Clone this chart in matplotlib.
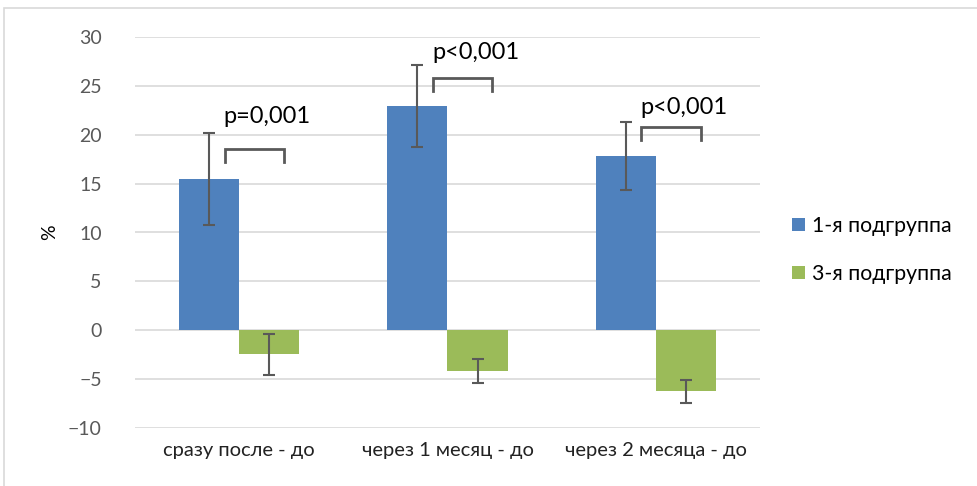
import matplotlib
matplotlib.use("Agg")
import matplotlib.pyplot as plt
from matplotlib.patches import Rectangle
import numpy as np

categories = ["сразу после - до", "через 1 месяц - до", "через 2 месяца - до"]
series_names = ["1-я подгруппа", "3-я подгруппа"]
values_1 = [15.5, 22.9, 17.8]
errors_1 = [4.7, 4.2, 3.5]
values_3 = [-2.45, -4.15, -6.24]
errors_3 = [2.1, 1.2, 1.2]
p_labels = ["p=0,001", "p<0,001", "p<0,001"]
bracket_y = [18.5, 25.8, 20.8]
p_label_y = [21.9, 28.4, 22.8]
yticks = [-10, -5, 0, 5, 10, 15, 20, 25, 30]

plt.rcParams['font.family'] = ['Lato', 'DejaVu Sans']

W, H = 977, 486
fig = plt.figure(figsize=(W / 100, H / 100), dpi=100)
fig.patches.append(Rectangle((4 / W, -0.1), 1.2, 1.1 - 8 / H, transform=fig.transFigure,
                             fill=False, edgecolor="#d9d9d9", linewidth=1.2))
ax = fig.add_axes([135 / W, 1 - 428 / H, 625 / W, (428 - 37) / H])

x = np.arange(len(categories))
bw = 60 / 208
c_blue = "#4F81BD"
c_green = "#9BBB59"
ecol = "#595959"
ax.bar(x - bw / 2, values_1, bw, color=c_blue, label=series_names[0], zorder=2,
       yerr=errors_1, error_kw=dict(ecolor=ecol, elinewidth=1.5, capsize=4, capthick=1.5))
ax.bar(x + bw / 2, values_3, bw, color=c_green, label=series_names[1], zorder=2,
       yerr=errors_3, error_kw=dict(ecolor=ecol, elinewidth=1.5, capsize=4, capthick=1.5))

for i in range(len(categories)):
    x0 = i - 0.07
    x1 = i + 0.215
    yb = bracket_y[i]
    ax.plot([x0, x0, x1, x1], [yb - 1.3, yb, yb, yb - 1.3], color=ecol, lw=2, zorder=3,
            solid_joinstyle="miter")
    ax.text(i + 0.135, p_label_y[i], p_labels[i], ha="center", va="center",
            fontsize=17, color="black")

ax.set_xlim(-0.5, 2.5)
ax.set_ylim(-10, 30)
ax.set_yticks(yticks)
ax.set_xticks(x)
ax.set_xticklabels(categories, fontsize=14.5, color="#222222")
ax.tick_params(axis="y", labelsize=14, length=0, pad=24, labelcolor="#595959")
ax.tick_params(axis="x", length=0, pad=10)
ax.yaxis.grid(True, color="#d9d9d9", linewidth=1.2, zorder=0)
ax.set_axisbelow(True)
for s in ax.spines.values():
    s.set_visible(False)
ax.set_ylabel("%", fontsize=14)
ax.yaxis.set_label_coords(-77 / 625, 0.5)

handles, labels = ax.get_legend_handles_labels()
leg = fig.legend(handles, labels, loc="center left", bbox_to_anchor=(773 / W, 1 - 250 / H),
                 frameon=False, fontsize=15.3, handlelength=0.6, handleheight=0.6,
                 labelspacing=1.3, handletextpad=0.35)

fig.savefig("out.png", dpi=100)
